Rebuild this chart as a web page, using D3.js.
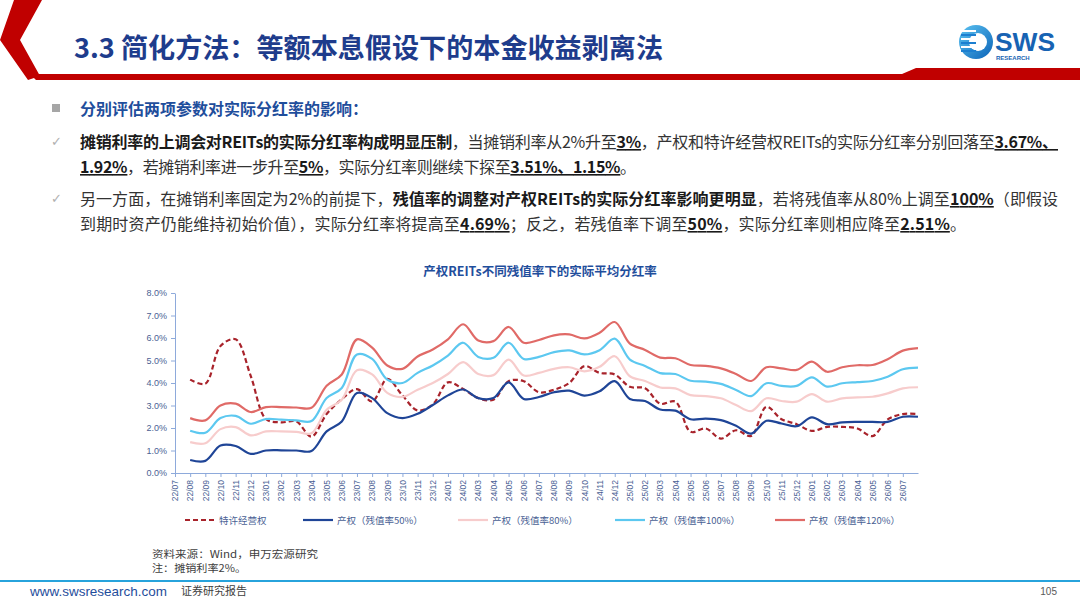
<!DOCTYPE html>
<html><head><meta charset="utf-8">
<script src="https://cdn.jsdelivr.net/npm/d3@7"></script>
<style>
body{margin:0;background:#fff;width:1080px;height:608px;overflow:hidden;}
svg{display:block;font-family:"Noto Sans CJK SC","Noto Sans",sans-serif;}
</style></head><body>
<svg id="slide" width="1080" height="608"></svg>
<script>
// ---------- data ----------
const months = ["22/07","22/08","22/09","22/10","22/11","22/12","23/01","23/02","23/03","23/04","23/05","23/06",
"23/07","23/08","23/09","23/10","23/11","23/12","24/01","24/02","24/03","24/04","24/05","24/06",
"24/07","24/08","24/09","24/10","24/11","24/12","25/01","25/02","25/03","25/04","25/05","25/06",
"25/07","25/08","25/09","25/10","25/11","25/12","26/01","26/02","26/03","26/04","26/05","26/06","26/07"];
const seriesNames = ["特许经营权","产权（残值率50%）","产权（残值率80%）","产权（残值率100%）","产权（残值率120%）"];
const franchise = [4.15,3.97,5.64,5.94,4.3,2.4,2.25,2.29,1.62,2.62,3.28,3.73,3.18,4.18,3.45,2.78,3.05,4.03,3.73,3.33,3.26,4.08,4.08,3.59,3.7,4.0,4.75,4.45,4.38,3.83,3.77,3.08,3.17,1.83,1.98,1.53,1.9,1.65,2.94,2.39,2.17,1.87,2.05,2.05,1.98,1.64,2.38,2.62,2.62];
const prop50 = [0.58,0.54,1.22,1.2,0.85,1.0,1.01,1.0,0.98,1.85,2.29,3.56,3.33,2.66,2.44,2.63,3.02,3.45,3.71,3.33,3.33,4.03,3.29,3.38,3.59,3.66,3.44,3.63,4.08,3.29,3.2,2.82,2.77,2.39,2.42,2.35,2.1,1.75,2.32,2.2,2.08,2.47,2.17,2.25,2.27,2.27,2.27,2.5,2.5];
const prop80 = [1.37,1.32,1.95,2.04,1.67,1.85,1.85,1.83,1.77,2.81,3.26,4.57,4.38,3.56,3.38,3.7,4.0,4.4,4.93,4.4,4.35,5.04,4.33,4.45,4.63,4.7,4.52,4.72,5.19,4.3,4.09,3.8,3.76,3.46,3.42,3.32,3.02,2.75,3.32,3.2,3.17,3.51,3.17,3.32,3.36,3.39,3.54,3.76,3.81];
const prop100 = [1.88,1.79,2.44,2.54,2.19,2.4,2.37,2.34,2.31,3.33,3.78,5.27,5.07,4.15,4.0,4.45,4.78,5.22,5.79,5.16,5.12,5.79,5.07,5.16,5.37,5.45,5.27,5.46,5.97,5.04,4.76,4.44,4.4,4.1,4.06,3.96,3.69,3.42,3.99,3.87,3.87,4.25,3.84,3.99,4.04,4.09,4.28,4.61,4.68];
const prop120 = [2.44,2.34,3.0,3.08,2.71,2.93,2.93,2.91,2.9,3.88,4.38,5.94,5.57,4.78,4.63,5.18,5.49,5.94,6.61,5.89,5.86,6.49,5.79,5.91,6.12,6.16,5.98,6.23,6.71,5.75,5.47,5.13,5.1,4.8,4.76,4.65,4.4,4.09,4.7,4.65,4.58,4.95,4.5,4.7,4.79,4.8,5.06,5.44,5.55];
const yTicks = [0,1,2,3,4,5,6,7,8];

// ---------- styles ----------
const seriesData = [franchise, prop50, prop80, prop100, prop120];
const seriesColors = ["#a8232b","#1f4597","#f7cccc","#5cc8f0","#e06a67"];
const seriesDash = ["5,3",null,null,null,null];
const axisColor = "#8eaadb", labelColor = "#4a5f94";

const svg = d3.select("#slide");

// ---------- header ----------
svg.append("polygon").attr("points","14,0 42,0 20,40 40,76 28,80 0,40").attr("fill","#c00000");
svg.append("polygon").attr("points","30,74 902,74 916,68 1080,68 1080,80 36,80").attr("fill","#c00000");
svg.append("text").attr("x",74).attr("y",58).attr("font-size",27).attr("font-weight","bold")
  .attr("fill","#1e3c8c").attr("textLength",589).attr("lengthAdjust","spacingAndGlyphs")
  .text("3.3 简化方法：等额本息假设下的本金收益剥离法");

// logo
const defs = svg.append("defs");
const lg = defs.append("linearGradient").attr("id","lg").attr("x1","0").attr("x2","1").attr("y1","0").attr("y2","1");
lg.append("stop").attr("offset","0").attr("stop-color","#5cc4f2");
lg.append("stop").attr("offset","1").attr("stop-color","#0b63b8");
svg.append("circle").attr("cx",976).attr("cy",42).attr("r",17).attr("fill","url(#lg)");
svg.append("circle").attr("cx",978).attr("cy",42).attr("r",9).attr("fill","#fff");
[30,34,38,42,46,50].forEach((yy,i)=>{
  svg.append("rect").attr("x",961).attr("y",yy).attr("width",15).attr("height",2).attr("fill", i%2? "#1c7fd0":"#fff");
});
svg.append("text").attr("x",995).attr("y",51).attr("font-size",25).attr("font-weight","bold")
  .attr("font-family","Liberation Sans, Arial, sans-serif").attr("fill","#1763b3")
  .attr("textLength",60).attr("lengthAdjust","spacingAndGlyphs").text("SWS");
svg.append("text").attr("x",996).attr("y",60).attr("font-size",6).attr("font-weight","bold")
  .attr("font-family","Liberation Sans, Arial, sans-serif").attr("fill","#1763b3").text("RESEARCH");

// ---------- bullets ----------
svg.append("rect").attr("x",52).attr("y",104).attr("width",8).attr("height",8).attr("fill","#a6a6a6");
svg.append("text").attr("x",80).attr("y",115).attr("font-size",16).attr("font-weight","bold")
  .attr("fill","#1f4e9c").text("分别评估两项参数对实际分红率的影响：");
[148,205].forEach(yy=>svg.append("text").attr("x",51).attr("y",yy-2).attr("font-size",13)
  .attr("font-family","DejaVu Sans").attr("fill","#b0b0b0").text("✓"));

const lines = [
 {y:148, end:1058, segs:[["摊销利率的上调会对REITs的实际分红率构成明显压制","b"],["，当摊销利率从2%升至",""],["3%","bu"],["，产权和特许经营权REITs的实际分红率分别回落至",""],["3.67%、","bu"]]},
 {y:173, end:636, segs:[["1.92%","bu"],["，若摊销利率进一步升至",""],["5%","bu"],["，实际分红率则继续下探至",""],["3.51%、1.15%","bu"],["。",""]]},
 {y:205, end:1058, segs:[["另一方面，在摊销利率固定为2%的前提下，",""],["残值率的调整对产权REITs的实际分红率影响更明显","b"],["，若将残值率从80%上调至",""],["100%","bu"],["（即假设",""]]},
 {y:230, end:966, segs:[["到期时资产仍能维持初始价值），实际分红率将提高至",""],["4.69%","bu"],["；反之，若残值率下调至",""],["50%","bu"],["，实际分红率则相应降至",""],["2.51%","bu"],["。",""]]}
];
lines.forEach(l=>{
  const t = svg.append("text").attr("x",80).attr("y",l.y).attr("font-size",16).attr("fill","#333");
  l.segs.forEach(s=>{
    const ts = t.append("tspan").text(s[0]);
    if(s[1].includes("b")) ts.attr("font-weight","bold").attr("fill","#1a1a1a");
    if(s[1].includes("u")) ts.attr("text-decoration","underline");
  });
  const w = t.node().getComputedTextLength();
  const target = l.end-80;
  if(Math.abs(w-target)>2) t.attr("textLength",target).attr("lengthAdjust","spacing");
});

// ---------- chart ----------
const x = d3.scaleLinear().domain([0,49]).range([175,918]);
const y = d3.scaleLinear().domain([0,8]).range([473,293]);

svg.append("text").attr("x",540).attr("y",276).attr("text-anchor","middle").attr("font-size",12.5)
  .attr("font-weight","bold").attr("fill","#1f4e9c").text("产权REITs不同残值率下的实际平均分红率");

const gy = svg.append("g").attr("transform","translate(175,0)")
  .call(d3.axisLeft(y).tickValues(yTicks).tickFormat(d=>d.toFixed(1)+"%").tickSize(4).tickSizeOuter(0));
gy.selectAll("path,line").attr("stroke",axisColor);
gy.selectAll("text").attr("font-size",9).attr("fill",labelColor).attr("font-family","Liberation Sans, Arial, sans-serif").attr("x",-8);

const gx = svg.append("g").attr("transform","translate(0,473)")
  .call(d3.axisBottom(x).tickValues(d3.range(months.length)).tickFormat(i=>months[i]).tickSize(4).tickSizeOuter(0));
gx.selectAll("path,line").attr("stroke",axisColor);
gx.selectAll("text").attr("font-size",8.5).attr("fill",labelColor).attr("font-family","Liberation Sans, Arial, sans-serif")
  .attr("text-anchor","end").attr("transform","rotate(-90)").attr("x",-7).attr("y",0).attr("dy","0.32em");

const line = d3.line().x((d,i)=>x(i+1)).y(d=>y(d)).curve(d3.curveCatmullRom.alpha(0.5));
seriesData.forEach((arr,si)=>{
  const p = svg.append("path").attr("d",line(arr)).attr("fill","none")
    .attr("stroke",seriesColors[si]).attr("stroke-width",2.2).attr("stroke-linejoin","round");
  if(seriesDash[si]) p.attr("stroke-dasharray",seriesDash[si]);
});

// legend
const legX = [185,303,458,615,775];
seriesNames.forEach((n,i)=>{
  const g = svg.append("g").attr("transform",`translate(${legX[i]},520)`);
  const l = g.append("line").attr("x1",0).attr("x2",30).attr("stroke",seriesColors[i]).attr("stroke-width",2.2);
  if(seriesDash[i]) l.attr("stroke-dasharray",seriesDash[i]);
  g.append("text").attr("x",34).attr("y",3.5).attr("font-size",9.5).attr("fill",labelColor).text(n);
});

// source notes
svg.append("text").attr("x",152).attr("y",558).attr("font-size",10).attr("fill","#404040")
  .attr("textLength",166).attr("lengthAdjust","spacingAndGlyphs").text("资料来源：Wind，申万宏源研究");
svg.append("text").attr("x",152).attr("y",572).attr("font-size",10).attr("fill","#404040")
  .attr("textLength",94).attr("lengthAdjust","spacingAndGlyphs").text("注：摊销利率2%。");

// footer
svg.append("line").attr("x1",0).attr("x2",1080).attr("y1",581).attr("y2",581).attr("stroke","#27a3dc").attr("stroke-width",2);
svg.append("text").attr("x",30).attr("y",596).attr("font-size",13).attr("fill","#1f4e9c")
  .attr("font-family","Liberation Sans, Arial, sans-serif").attr("textLength",137).attr("lengthAdjust","spacingAndGlyphs").text("www.swsresearch.com");
svg.append("text").attr("x",181).attr("y",595).attr("font-size",11).attr("fill","#404040").text("证券研究报告");
svg.append("text").attr("x",1057).attr("y",595).attr("text-anchor","end").attr("font-size",10)
  .attr("font-family","Liberation Sans, Arial, sans-serif").attr("fill","#595959").text("105");
</script>
</body></html>
